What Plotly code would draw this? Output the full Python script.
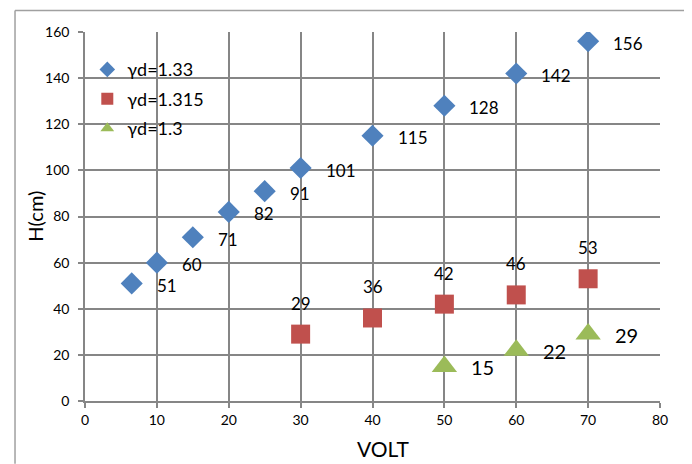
import plotly.graph_objects as go

# Data
blue_x = [6.5, 10, 15, 20, 25, 30, 40, 50, 60, 70]
blue_y = [51, 60, 71, 82, 91, 101, 115, 128, 142, 156]
red_x = [30, 40, 50, 60, 70]
red_y = [29, 36, 42, 46, 53]
green_x = [50, 60, 70]
green_y = [15, 22, 29]
names = ["γd=1.33", "γd=1.315", "γd=1.3"]
x_title = "VOLT"
y_title = "H(cm)"

BLUE = "#4F81BD"
RED = "#C0504D"
GREEN = "#9BBB59"
GRID = "#868686"
FRAME = "#A0A0A0"
FONT = "Lato, 'Noto Sans', sans-serif"

fig = go.Figure()
fig.add_trace(go.Scatter(x=blue_x, y=blue_y, mode="markers", name=names[0],
                         marker=dict(symbol="diamond", size=17, color=BLUE),
                         legendgroup="a"))
fig.add_trace(go.Scatter(x=red_x, y=red_y, mode="markers", name=names[1],
                         marker=dict(symbol="square", size=19, color=RED),
                         legendgroup="b"))
fig.add_trace(go.Scatter(x=green_x, y=green_y, mode="markers", name=names[2],
                         marker=dict(symbol="triangle-up", size=22, color=GREEN),
                         legendgroup="c"))

ann = []
for x, y in zip(blue_x, blue_y):
    ann.append(dict(x=x, y=y, text=str(y), showarrow=False, xanchor="left",
                    yanchor="middle", xshift=23, yshift=-2,
                    font=dict(size=17, color="#000", family=FONT)))
for x, y in zip(red_x, red_y):
    ann.append(dict(x=x, y=y, text=str(y), showarrow=False, xanchor="center",
                    yanchor="middle", yshift=31,
                    font=dict(size=17, color="#000", family=FONT)))
for x, y in zip(green_x, green_y):
    ann.append(dict(x=x, y=y, text=str(y), showarrow=False, xanchor="left",
                    yanchor="middle", xshift=25, yshift=-1,
                    font=dict(size=20, color="#000", family=FONT)))
ann.append(dict(xref="paper", yref="paper", x=0.518, y=-0.128, text=x_title,
                showarrow=False, xanchor="center", yanchor="middle",
                font=dict(size=21, color="#000", family=FONT)))
ann.append(dict(xref="paper", yref="paper", x=-0.086, y=0.501, text=y_title,
                showarrow=False, xanchor="center", yanchor="middle", textangle=-90,
                font=dict(size=20, color="#000", family=FONT)))

L, R, T, B = -0.1217, 1.0435, 1.058, -0.17
frame = [
    dict(type="line", xref="paper", yref="paper", x0=L, x1=L, y0=B, y1=T,
         line=dict(color=FRAME, width=1.5)),
    dict(type="line", xref="paper", yref="paper", x0=R, x1=R, y0=B, y1=T,
         line=dict(color=FRAME, width=1.5)),
    dict(type="line", xref="paper", yref="paper", x0=L, x1=R, y0=T, y1=T,
         line=dict(color=FRAME, width=1.5)),
]

fig.update_layout(
    width=684, height=456,
    margin=dict(l=77, r=32, t=24, b=63, autoexpand=False),
    paper_bgcolor="white", plot_bgcolor="white",
    font=dict(family=FONT, color="#000"),
    annotations=ann,
    showlegend=True,
    legend=dict(x=0.004, y=0.948, xanchor="left", yanchor="top",
                bgcolor="rgba(0,0,0,0)", font=dict(size=18, family=FONT),
                tracegroupgap=3, itemsizing="constant"),
    shapes=frame,
    xaxis=dict(range=[0, 80], dtick=10, showgrid=True, gridcolor=GRID, gridwidth=1.5,
               showline=True, linecolor=GRID, linewidth=1.5, mirror=False,
               ticks="outside", ticklen=5, tickcolor=GRID, tickwidth=1.5,
               tickfont=dict(size=14, family=FONT), zeroline=False, automargin=False),
    yaxis=dict(range=[0, 160], dtick=20, showgrid=True, gridcolor=GRID, gridwidth=1.5,
               showline=True, linecolor=GRID, linewidth=1.5,
               ticks="outside", ticklen=5, tickcolor=GRID, tickwidth=1.5,
               ticklabelstandoff=6,
               tickfont=dict(size=14, family=FONT), zeroline=False, automargin=False),
)
fig.write_html("out.html")
